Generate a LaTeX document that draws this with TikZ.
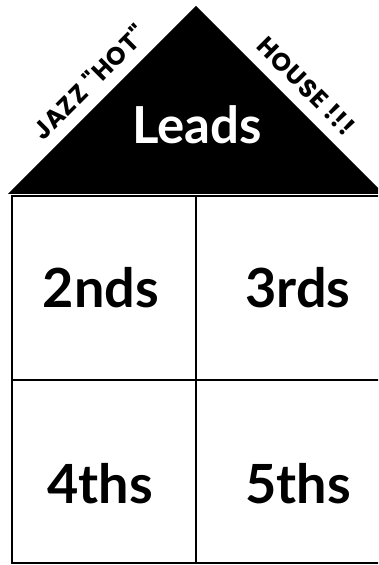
\documentclass[tikz,border=0pt]{standalone}
\usepackage{fontspec}
\setmainfont{Lato}
\newfontfamily\handfont[LetterSpace=4]{Poppins}
\begin{document}
\begin{tikzpicture}[x=1pt,y=1pt]
        % 1 unit = 1 px of the 378x565 sheet, y upwards
        \useasboundingbox (0,0) rectangle (378,565);
        \clip (0,0) rectangle (378,565);
        \fill[black] (8,371) -- (196,559) -- (384,371) -- cycle;
        \draw[line width=2pt] (12,2) rectangle (384,369);
        \draw[line width=2pt] (196,2) -- (196,369);
        \draw[line width=2pt] (12,185) -- (384,185);
        \node[text=white,font=\fontsize{51}{51}\selectfont\bfseries] (leads) at (197,440) {Leads};
        \node[font=\handfont\fontsize{25}{25}\selectfont\bfseries,rotate=45] (jazz) at (89,483) {JAZZ "HOT"};
        \node[font=\handfont\fontsize{25}{25}\selectfont\bfseries,rotate=-45] (house) at (306,479) {HOUSE !!!};
        \foreach \x/\y/\t/\n in {101/277/2nds/two,298/277/3rds/three,100/81/4ths/four,298/81/5ths/five}{
            \node[font=\fontsize{54}{54}\selectfont\bfseries] (\n) at (\x,\y) {\t};
        }
    \end{tikzpicture}
\end{document}
